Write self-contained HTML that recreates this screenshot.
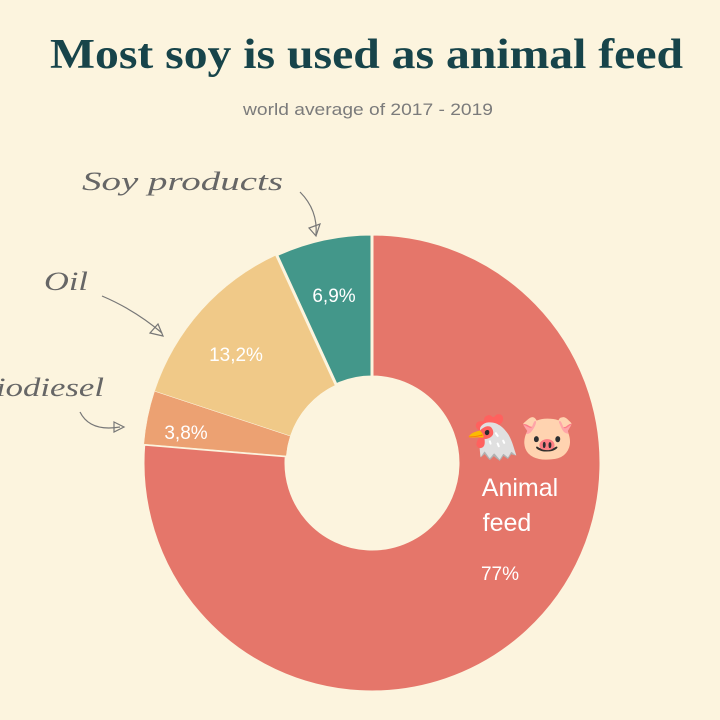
<!DOCTYPE html>
<html><head><meta charset="utf-8"><style>
body{margin:0;background:#fcf4de;}
svg{display:block}
</style></head><body>
<svg width="720" height="720" viewBox="0 0 720 720">
<rect width="720" height="720" fill="#fcf4de"/>
<text x="50" y="68" textLength="633" lengthAdjust="spacingAndGlyphs" font-family="Liberation Serif, serif" font-weight="bold" font-size="42" fill="#17444a">Most soy is used as animal feed</text>
<text x="243" y="115" textLength="250" lengthAdjust="spacingAndGlyphs" font-family="Liberation Sans, sans-serif" font-size="17" fill="#7b7b7b">world average of 2017 - 2019</text>
<g id="slices"></g>
<g font-family="Liberation Sans, sans-serif" fill="#fff">
<text x="520" y="496" font-size="25" text-anchor="middle">Animal</text>
<text x="507" y="531" font-size="25" text-anchor="middle">feed</text>
<text x="500" y="580" font-size="19" text-anchor="middle">77%</text>
<text x="520" y="452" font-size="44" text-anchor="middle">🐔🐷</text>
<text x="186" y="439" font-size="19" text-anchor="middle">3,8%</text>
<text x="236" y="361" font-size="19" text-anchor="middle">13,2%</text>
<text x="334" y="302" font-size="19" text-anchor="middle">6,9%</text>
</g>
<g font-family="Liberation Serif, serif" font-style="italic" fill="#666" font-size="26">
<text x="82" y="190" textLength="201" lengthAdjust="spacingAndGlyphs">Soy products</text>
<text x="44" y="290" textLength="44" lengthAdjust="spacingAndGlyphs">Oil</text>
<text x="-4" y="396" textLength="108" lengthAdjust="spacingAndGlyphs">iodiesel</text>
</g>
<g fill="none" stroke="#777" stroke-width="1.2">
<path d="M300 192 Q318 210 316 235"/>
<path d="M309 228 L316 236 L320 224 Z"/>
<path d="M102 296 Q135 310 162 333"/>
<path d="M150 333 L163 336 L158 324 Z"/>
<path d="M80 412 Q90 432 120 427"/>
<path d="M114 422 L124 427 L114 432 Z"/>
</g>
</svg>
<script>
const categories = ["Animal feed", "Biodiesel", "Oil", "Soy products"];
const values = [77, 3.8, 13.2, 6.9];
const colors = ["#e5766a", "#eca172", "#f0c988", "#43978a"];
const cx = 372, cy = 463, rOut = 229, rIn = 86;
const total = values.reduce((a, b) => a + b, 0);
function angle(v) { return v / total * 2 * Math.PI; }
function pt(r, a) { return [cx + r * Math.sin(a), cy - r * Math.cos(a)]; }
const g = document.getElementById('slices');
let a0 = 0;
values.forEach((v, i) => {
  const a1 = a0 + angle(v);
  const large = (a1 - a0) > Math.PI ? 1 : 0;
  const [x0, y0] = pt(rOut, a0), [x1, y1] = pt(rOut, a1);
  const [x2, y2] = pt(rIn, a1), [x3, y3] = pt(rIn, a0);
  const p = document.createElementNS('http://www.w3.org/2000/svg', 'path');
  p.setAttribute('d', `M${x0} ${y0} A${rOut} ${rOut} 0 ${large} 1 ${x1} ${y1} L${x2} ${y2} A${rIn} ${rIn} 0 ${large} 0 ${x3} ${y3} Z`);
  p.setAttribute('fill', colors[i]);
  p.setAttribute('stroke', '#fcf4de');
  p.setAttribute('stroke-width', i === 3 || i === 0 ? '3' : '0.5');
  
  
  g.appendChild(p);
  a0 = a1;
});
</script>
</body></html>
